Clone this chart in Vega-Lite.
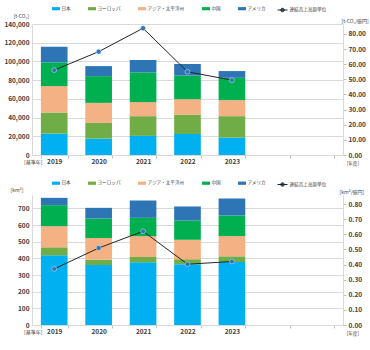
{
  "$schema": "https://vega.github.io/schema/vega-lite/v6.json",
  "background": "white",
  "padding": {"left": 3, "top": 4, "right": 2, "bottom": 2},
  "datasets": {
    "co2": [
      {"year": "2019", "region": "日本", "rank": 1, "value": 22900},
      {"year": "2019", "region": "ヨーロッパ", "rank": 2, "value": 22500},
      {"year": "2019", "region": "アジア・太平洋州", "rank": 3, "value": 28200},
      {"year": "2019", "region": "中国", "rank": 4, "value": 25400},
      {"year": "2019", "region": "アメリカ", "rank": 5, "value": 16700},
      {"year": "2020", "region": "日本", "rank": 1, "value": 17500},
      {"year": "2020", "region": "ヨーロッパ", "rank": 2, "value": 16800},
      {"year": "2020", "region": "アジア・太平洋州", "rank": 3, "value": 21400},
      {"year": "2020", "region": "中国", "rank": 4, "value": 28600},
      {"year": "2020", "region": "アメリカ", "rank": 5, "value": 10700},
      {"year": "2021", "region": "日本", "rank": 1, "value": 20400},
      {"year": "2021", "region": "ヨーロッパ", "rank": 2, "value": 21100},
      {"year": "2021", "region": "アジア・太平洋州", "rank": 3, "value": 15000},
      {"year": "2021", "region": "中国", "rank": 4, "value": 31800},
      {"year": "2021", "region": "アメリカ", "rank": 5, "value": 13200},
      {"year": "2022", "region": "日本", "rank": 1, "value": 22500},
      {"year": "2022", "region": "ヨーロッパ", "rank": 2, "value": 20600},
      {"year": "2022", "region": "アジア・太平洋州", "rank": 3, "value": 16600},
      {"year": "2022", "region": "中国", "rank": 4, "value": 25300},
      {"year": "2022", "region": "アメリカ", "rank": 5, "value": 12200},
      {"year": "2023", "region": "日本", "rank": 1, "value": 18600},
      {"year": "2023", "region": "ヨーロッパ", "rank": 2, "value": 22900},
      {"year": "2023", "region": "アジア・太平洋州", "rank": 3, "value": 17100},
      {"year": "2023", "region": "中国", "rank": 4, "value": 23900},
      {"year": "2023", "region": "アメリカ", "rank": 5, "value": 7200}
    ],
    "co2i": [
      {"year": "2019", "v": 56.1},
      {"year": "2020", "v": 68.3},
      {"year": "2021", "v": 83.8},
      {"year": "2022", "v": 55.0},
      {"year": "2023", "v": 49.5}
    ],
    "wat": [
      {"year": "2019", "region": "日本", "rank": 1, "value": 418},
      {"year": "2019", "region": "ヨーロッパ", "rank": 2, "value": 48},
      {"year": "2019", "region": "アジア・太平洋州", "rank": 3, "value": 127},
      {"year": "2019", "region": "中国", "rank": 4, "value": 126},
      {"year": "2019", "region": "アメリカ", "rank": 5, "value": 44},
      {"year": "2020", "region": "日本", "rank": 1, "value": 360},
      {"year": "2020", "region": "ヨーロッパ", "rank": 2, "value": 32},
      {"year": "2020", "region": "アジア・太平洋州", "rank": 3, "value": 130},
      {"year": "2020", "region": "中国", "rank": 4, "value": 117},
      {"year": "2020", "region": "アメリカ", "rank": 5, "value": 64},
      {"year": "2021", "region": "日本", "rank": 1, "value": 376},
      {"year": "2021", "region": "ヨーロッパ", "rank": 2, "value": 32},
      {"year": "2021", "region": "アジア・太平洋州", "rank": 3, "value": 125},
      {"year": "2021", "region": "中国", "rank": 4, "value": 110},
      {"year": "2021", "region": "アメリカ", "rank": 5, "value": 104},
      {"year": "2022", "region": "日本", "rank": 1, "value": 365},
      {"year": "2022", "region": "ヨーロッパ", "rank": 2, "value": 30},
      {"year": "2022", "region": "アジア・太平洋州", "rank": 3, "value": 117},
      {"year": "2022", "region": "中国", "rank": 4, "value": 115},
      {"year": "2022", "region": "アメリカ", "rank": 5, "value": 84},
      {"year": "2023", "region": "日本", "rank": 1, "value": 378},
      {"year": "2023", "region": "ヨーロッパ", "rank": 2, "value": 34},
      {"year": "2023", "region": "アジア・太平洋州", "rank": 3, "value": 121},
      {"year": "2023", "region": "中国", "rank": 4, "value": 124},
      {"year": "2023", "region": "アメリカ", "rank": 5, "value": 102}
    ],
    "wati": [
      {"year": "2019", "v": 0.371},
      {"year": "2020", "v": 0.509},
      {"year": "2021", "v": 0.62},
      {"year": "2022", "v": 0.402},
      {"year": "2023", "v": 0.42}
    ]
  },
  "vconcat": [
    {
      "width": 311,
      "height": 131,
      "title": {"text": "[年度]", "orient": "bottom", "anchor": "end", "frame": "group", "fontSize": 4.6, "fontWeight": "normal", "color": "#404040", "dx": 16, "offset": -4},
      "encoding": {
        "x": {
          "field": "year", "type": "nominal",
          "scale": {"domain": ["2019", "2020", "2021", "2022", "2023", "2024", "2025"], "paddingInner": 0.4, "paddingOuter": 0.2},
          "axis": {"title": "[基準年]", "labelAngle": 0, "labelExpr": "datum.value > '2023' ? '' : datum.value", "tickBand": "extent", "ticks": true, "tickSize": 3, "labelPadding": 0, "titleX": 10, "titleY": 6.5, "titleAlign": "right", "titleBaseline": "middle"}
        }
      },
      "layer": [
        {
          "data": {"name": "co2"},
          "mark": {"type": "bar"},
          "encoding": {
            "y": {"field": "value", "type": "quantitative", "stack": "zero",
              "scale": {"domain": [0, 140000]},
              "axis": {"orient": "left", "values": [0, 20000, 40000, 60000, 80000, 100000, 120000, 140000], "format": ",d", "grid": true, "ticks": false, "labelPadding": 3, "title": "[t-CO₂]", "titleAngle": 0, "titleAlign": "left", "titleBaseline": "middle", "titleX": -19, "titleY": -9}},
            "order": {"field": "rank", "type": "quantitative", "sort": "ascending"},
            "color": {"field": "region", "type": "nominal",
              "scale": {"domain": ["日本", "ヨーロッパ", "アジア・太平洋州", "中国", "アメリカ"], "range": ["#00B0F0", "#70AD47", "#F4B183", "#00B050", "#2E75B6"]},
              "legend": {"orient": "none", "legendX": 20, "legendY": -19.5, "direction": "horizontal", "title": null, "symbolType": "M-1,-0.4H1V0.4H-1Z", "symbolSize": 64, "symbolStrokeWidth": 0, "labelFontSize": 4.6, "labelOffset": 1.5, "columnPadding": 17}}
          }
        },
        {
          "data": {"name": "co2i"},
          "encoding": {
            "y": {"field": "v", "type": "quantitative", "scale": {"domain": [0, 86.6]},
              "axis": {"orient": "right", "values": [0, 10, 20, 30, 40, 50, 60, 70, 80], "format": ".2f", "grid": false, "ticks": true, "tickSize": 3, "labelPadding": 2, "title": "[t-CO₂/億円]", "titleAngle": 0, "titleAlign": "left", "titleBaseline": "middle", "titleX": -2, "titleY": -3.5}}
          },
          "layer": [
            {
              "mark": {"type": "line", "strokeWidth": 1},
              "encoding": {
                "stroke": {"datum": "連結売上高原単位", "scale": {"range": ["#262626"]},
                  "legend": {"orient": "none", "legendX": 245, "legendY": -19.5, "title": null, "symbolType": "M-1,0H1M0.35,0A0.35,0.35,0,1,1,-0.35,0A0.35,0.35,0,1,1,0.35,0Z", "symbolSize": 100, "symbolStrokeWidth": 1, "labelFontSize": 4.6, "labelOffset": 1.5, "encode": {"symbols": {"update": {"fill": {"value": "#2E75B6"}}}}}}
              }
            },
            {
              "mark": {"type": "point", "filled": true, "fill": "#2E75B6", "stroke": "#BDD7EE", "strokeWidth": 0.6, "size": 24, "opacity": 1}
            }
          ]
        }
      ],
      "resolve": {"scale": {"y": "independent"}}
    },
    {
      "width": 311,
      "height": 130,
      "title": {"text": "[年度]", "orient": "bottom", "anchor": "end", "frame": "group", "fontSize": 4.6, "fontWeight": "normal", "color": "#404040", "dx": 16, "offset": -4},
      "encoding": {
        "x": {
          "field": "year", "type": "nominal",
          "scale": {"domain": ["2019", "2020", "2021", "2022", "2023", "2024", "2025"], "paddingInner": 0.4, "paddingOuter": 0.2},
          "axis": {"title": "[基準年]", "labelAngle": 0, "labelExpr": "datum.value > '2023' ? '' : datum.value", "tickBand": "extent", "ticks": true, "tickSize": 3, "labelPadding": 0, "titleX": 10, "titleY": 6.5, "titleAlign": "right", "titleBaseline": "middle"}
        }
      },
      "layer": [
        {
          "data": {"name": "wat"},
          "mark": {"type": "bar"},
          "encoding": {
            "y": {"field": "value", "type": "quantitative", "stack": "zero",
              "scale": {"domain": [0, 780]},
              "axis": {"orient": "left", "values": [0, 100, 200, 300, 400, 500, 600, 700], "format": "d", "grid": true, "ticks": false, "labelPadding": 3, "title": "[km³]", "titleAngle": 0, "titleAlign": "left", "titleBaseline": "middle", "titleX": -22, "titleY": -6}},
            "order": {"field": "rank", "type": "quantitative", "sort": "ascending"},
            "color": {"field": "region", "type": "nominal",
              "scale": {"domain": ["日本", "ヨーロッパ", "アジア・太平洋州", "中国", "アメリカ"], "range": ["#00B0F0", "#70AD47", "#F4B183", "#00B050", "#2E75B6"]},
              "legend": {"orient": "none", "legendX": 20, "legendY": -16, "direction": "horizontal", "title": null, "symbolType": "M-1,-0.4H1V0.4H-1Z", "symbolSize": 64, "symbolStrokeWidth": 0, "labelFontSize": 4.6, "labelOffset": 1.5, "columnPadding": 17}}
          }
        },
        {
          "data": {"name": "wati"},
          "encoding": {
            "y": {"field": "v", "type": "quantitative", "scale": {"domain": [0, 0.86]},
              "axis": {"orient": "right", "values": [0, 0.1, 0.2, 0.3, 0.4, 0.5, 0.6, 0.7, 0.8], "format": ".2f", "grid": false, "ticks": true, "tickSize": 3, "labelPadding": 2, "title": "[km³/億円]", "titleAngle": 0, "titleAlign": "left", "titleBaseline": "middle", "titleX": -4, "titleY": -4}}
          },
          "layer": [
            {
              "mark": {"type": "line", "strokeWidth": 1},
              "encoding": {
                "stroke": {"datum": "連結売上高原単位", "scale": {"range": ["#262626"]},
                  "legend": {"orient": "none", "legendX": 245, "legendY": -16, "title": null, "symbolType": "M-1,0H1M0.35,0A0.35,0.35,0,1,1,-0.35,0A0.35,0.35,0,1,1,0.35,0Z", "symbolSize": 100, "symbolStrokeWidth": 1, "labelFontSize": 4.6, "labelOffset": 1.5, "encode": {"symbols": {"update": {"fill": {"value": "#2E75B6"}}}}}}
              }
            },
            {
              "mark": {"type": "point", "filled": true, "fill": "#2E75B6", "stroke": "#BDD7EE", "strokeWidth": 0.6, "size": 24, "opacity": 1}
            }
          ]
        }
      ],
      "resolve": {"scale": {"y": "independent"}}
    }
  ],
  "spacing": 13,
  "resolve": {
    "scale": {"x": "independent", "y": "independent", "color": "independent", "stroke": "independent"},
    "legend": {"color": "independent", "stroke": "independent"}
  },
  "config": {
    "view": {"stroke": null},
    "font": "Noto Sans CJK JP",
    "axis": {"labelFont": "Noto Sans CJK JP", "labelFontSize": 6.5, "labelFontWeight": "bold", "labelColor": "#404040", "domainColor": "#D9D9D9", "gridColor": "#D9D9D9", "tickColor": "#BFBFBF", "titleFont": "Noto Sans CJK JP", "titleFontWeight": "normal", "titleFontSize": 5, "titleColor": "#404040"},
    "legend": {"labelFont": "Noto Sans CJK JP", "labelColor": "#404040"}
  }
}
